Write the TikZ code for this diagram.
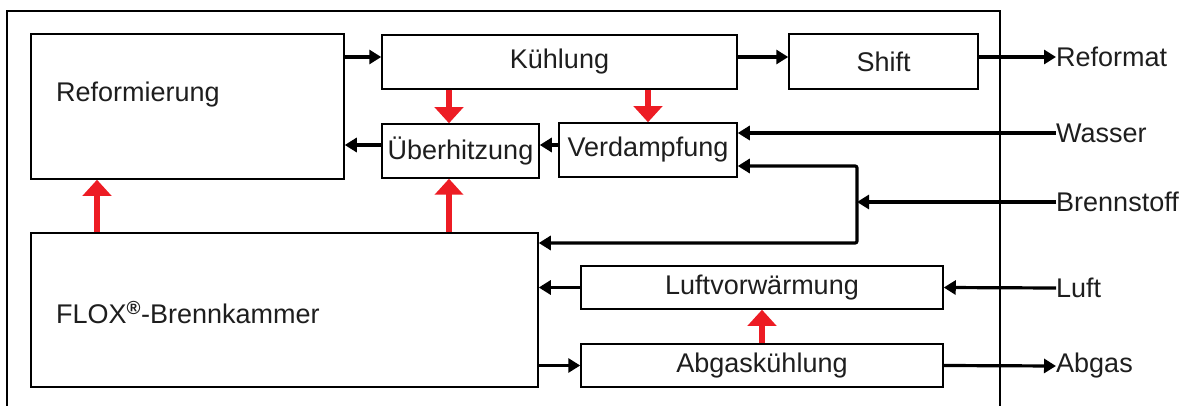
\documentclass[tikz,border=0pt]{standalone}
\usepackage{fontspec}
\setmainfont{Liberation Sans}
\usetikzlibrary{arrows.meta}
\definecolor{heat}{RGB}{237,28,36}
\definecolor{ink}{RGB}{30,30,30}
\tikzset{
  box/.style={draw=black, line width=1.5pt, inner sep=0pt, fill=white, text=ink},
  lbl/.style={inner sep=0pt, anchor=west, text=ink},
  flow/.style={line width=3.2pt, -{Triangle[length=12pt,width=14pt]}},
  hot/.style={draw=heat, line width=6pt, -{Triangle[length=16pt,width=28pt]}},
}
\begin{document}
\begin{tikzpicture}[x=1pt, y=-1pt, font=\fontsize{27}{32}\selectfont]
\useasboundingbox (0,0) rectangle (1193,406);
% system boundary
\draw[line width=1.5pt] (7,406) -- (7,11) -- (1000,11) -- (1000,406);

% process blocks
\node[box, minimum width=313pt, minimum height=145pt] (ref) at (187.5,106.5) {};
\node[lbl] (reftext) at (56,95) {Reformierung};
\node[box, minimum width=355pt, minimum height=54pt] (kuhl) at (559.5,62) {Kühlung};
\node[box, minimum width=189pt, minimum height=55pt] (shift) at (883.5,61.5) {Shift};
\node[box, minimum width=157pt, minimum height=54pt] (uber) at (460.5,151) {Überhitzung};
\node[box, minimum width=178pt, minimum height=54pt] (verd) at (648,150) {Verdampfung};
\node[box, minimum width=507pt, minimum height=154pt] (flox) at (284.5,310) {};
\node[lbl] (floxtext) at (56,313) {FLOX\textsuperscript{\textbf{®}}-Brennkammer};
\node[box, minimum width=362pt, minimum height=43pt] (luftv) at (762,287.5) {Luftvorwärmung};
\node[box, minimum width=362pt, minimum height=43pt] (abgk) at (762,365.5) {Abgaskühlung};

% streams in and out
\node[lbl] (reformat) at (1056,57) {Reformat};
\node[lbl] (wasser) at (1056,133) {Wasser};
\node[lbl] (brenn) at (1056,202) {Brennstoff};
\node[lbl] (luft) at (1056,288) {Luft};
\node[lbl] (abgas) at (1056,366) {Abgas};

% helper coordinates
\coordinate (y57) at (0,57);
\coordinate (y145) at (0,145);
\coordinate (x97) at (97,0);
\coordinate (x449) at (449,0);
\coordinate (bj) at (857,202);
\coordinate (bjt) at (857,166);
\coordinate (bjb) at (857,243);

% material flows
\draw[flow] (ref.east |- y57) -- (kuhl.west |- y57);
\draw[flow] (kuhl.east |- y57) -- (shift.west |- y57);
\draw[flow] (shift.east |- y57) -- (reformat.west);
\draw[flow] (wasser.west) -- (verd.east |- wasser.west);
\draw[flow] (brenn.west) -- (bj);
\draw[flow, rounded corners=2pt] (bj) -- (bjt) -- (verd.east |- bjt);
\draw[flow, rounded corners=2pt] (bj) -- (bjb) -- (flox.east |- bjb);
\draw[flow] (verd.west |- y145) -- (uber.east |- y145);
\draw[flow] (uber.west |- y145) -- (ref.east |- y145);
\draw[flow] (luftv.west) -- (flox.east |- luftv.west);
\draw[flow] (flox.east |- abgk.west) -- (abgk.west);
\draw[flow] (luft.west) -- (luftv.east);
\draw[flow] (abgk.east) -- (abgas.west);

% heat flows
\draw[hot] (flox.north -| x97) -- (ref.south -| x97);
\draw[hot] (flox.north -| x449) -- (uber.south -| x449);
\draw[hot] (kuhl.south -| x449) -- (uber.north -| x449);
\draw[hot] (kuhl.south -| verd.north) -- (verd.north);
\draw[hot] (abgk.north) -- (luftv.south);
\end{tikzpicture}
\end{document}
